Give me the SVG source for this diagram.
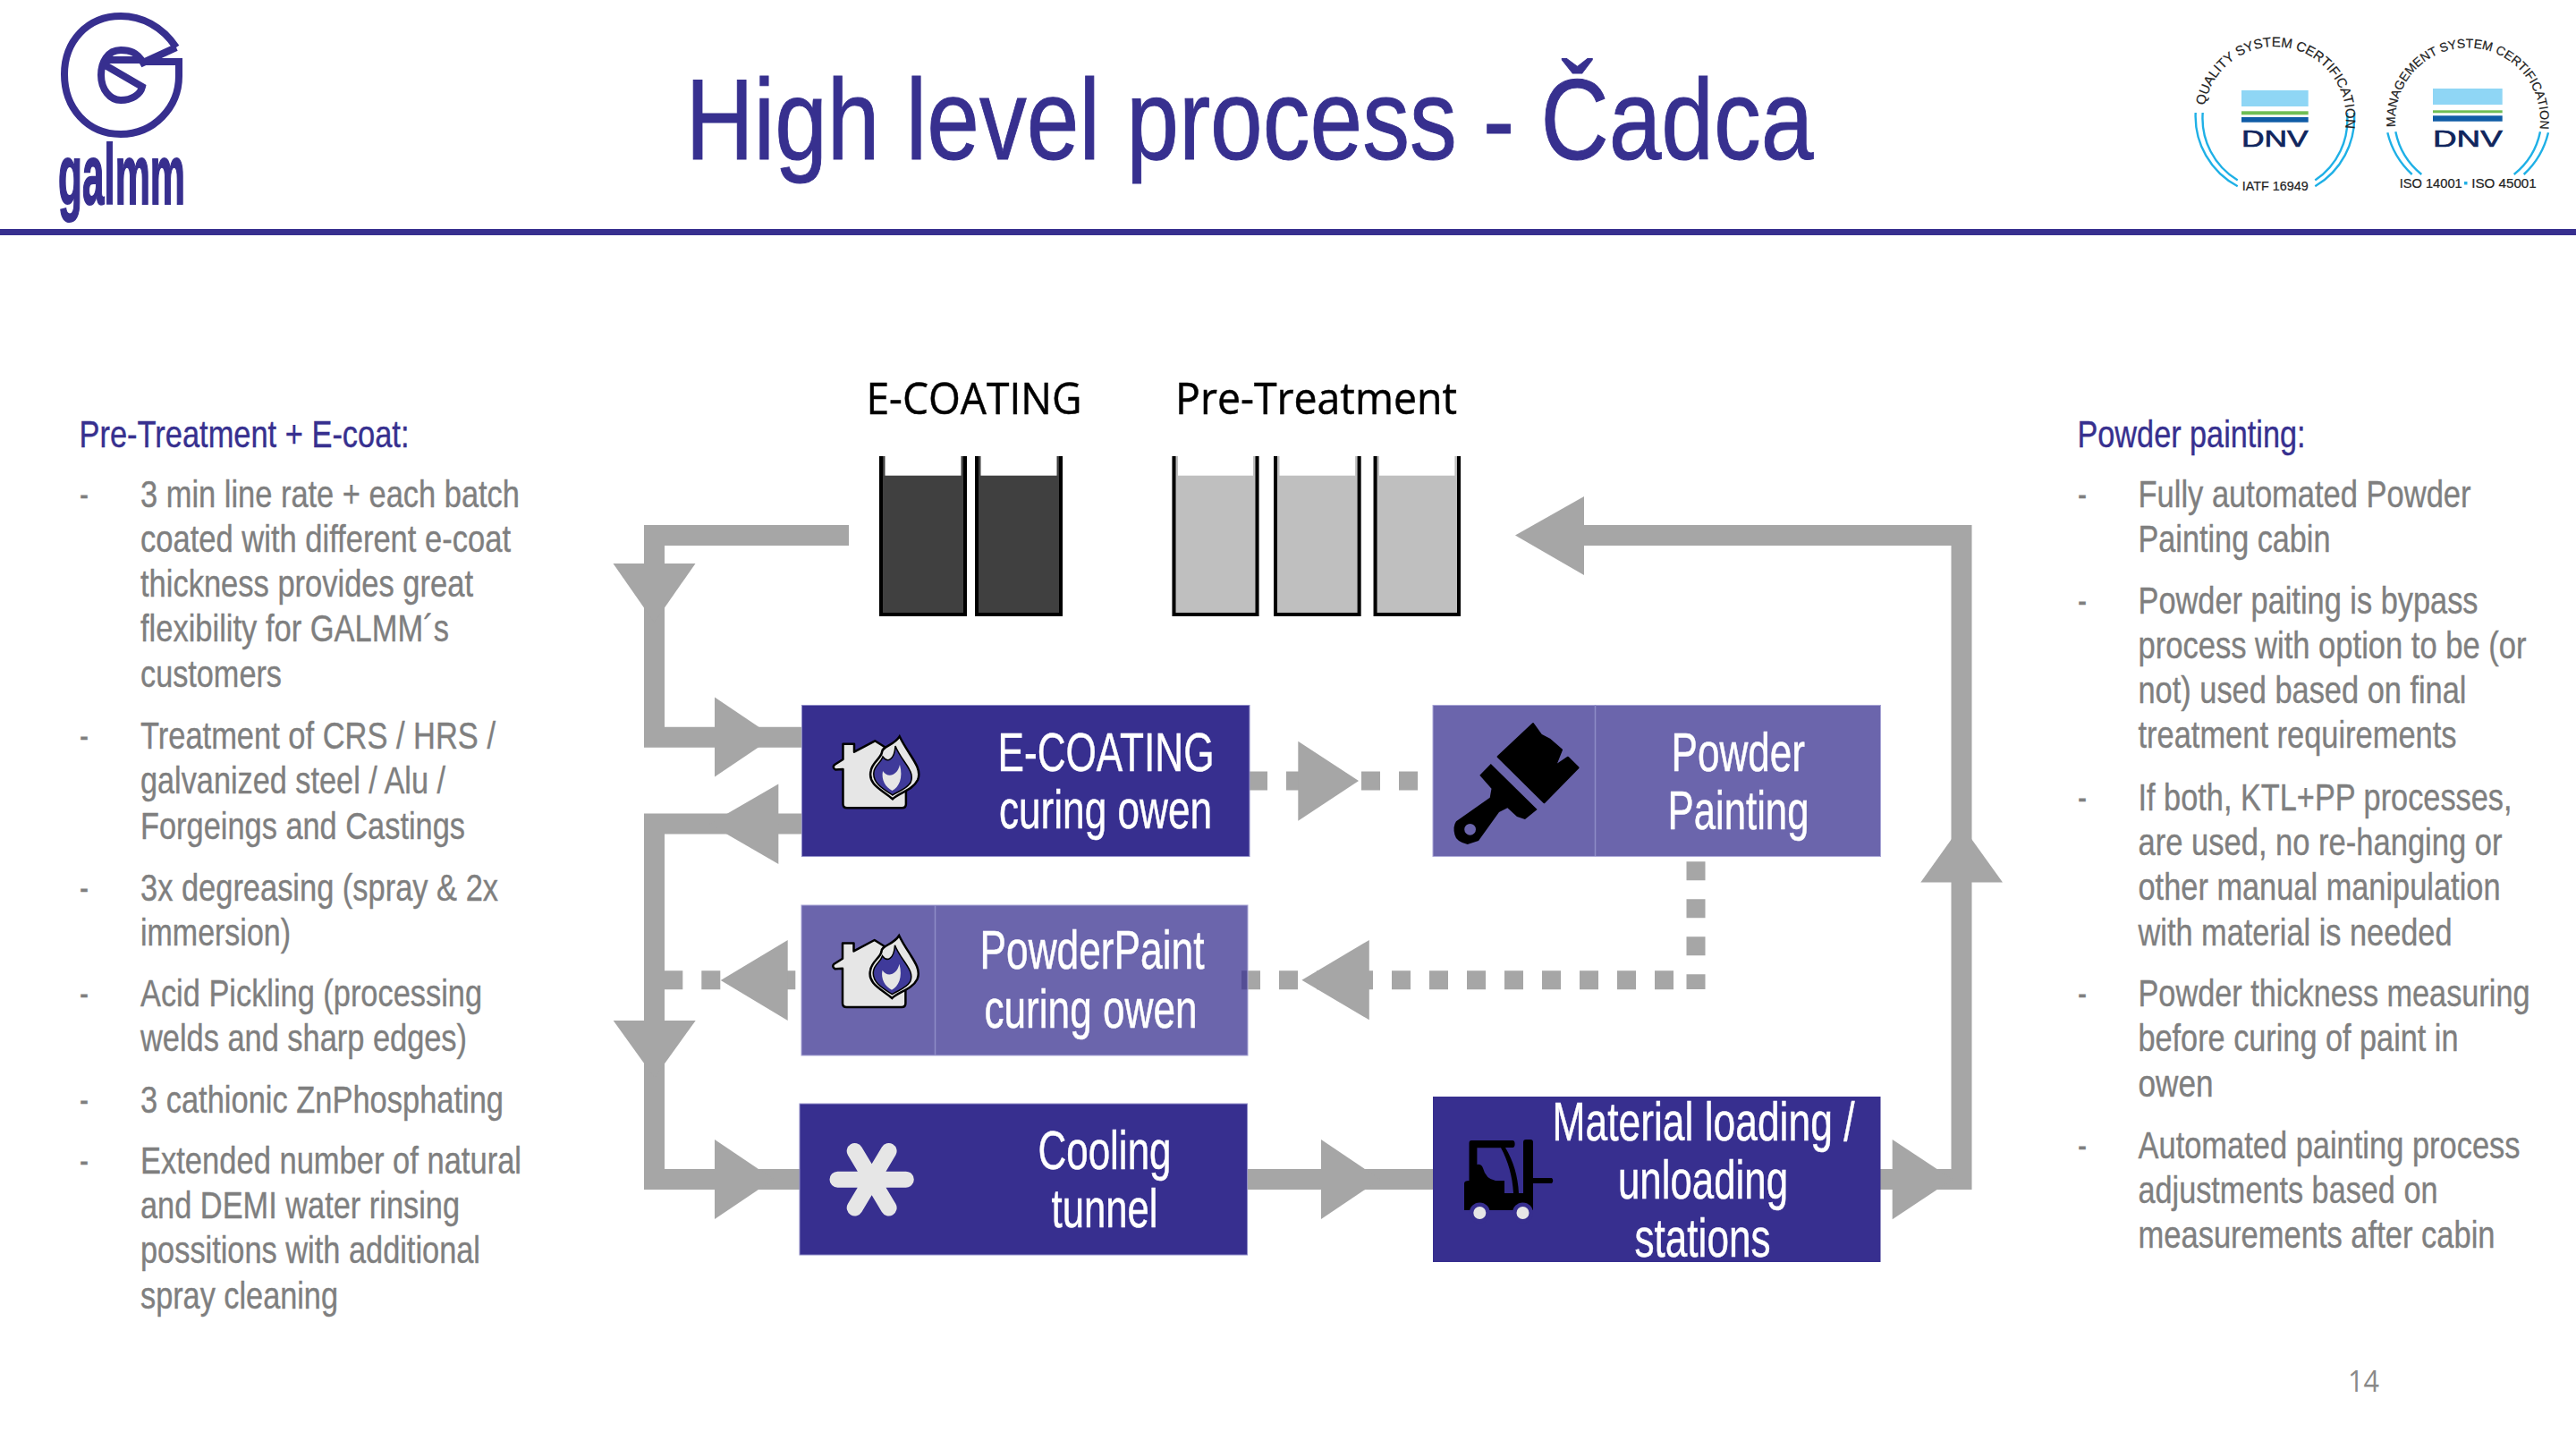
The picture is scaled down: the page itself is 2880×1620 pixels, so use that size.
<svg xmlns="http://www.w3.org/2000/svg" xmlns:xlink="http://www.w3.org/1999/xlink" width="2880" height="1620" viewBox="0 0 2880 1620">
<style>
text{font-family:"Liberation Sans",Arial,sans-serif}
.n{font-family:"Liberation Sans Narrow","Liberation Sans",Arial,sans-serif}
.b{font-family:"Liberation Sans Narrow","Liberation Sans",Arial,sans-serif;font-size:43px;fill:#7f7f7f;stroke:#7f7f7f;stroke-width:.4}
.h{font-family:"Liberation Sans Narrow","Liberation Sans",Arial,sans-serif;font-size:43px;fill:#37308f;stroke:#37308f;stroke-width:.4}
.w{font-family:"Liberation Sans Narrow","Liberation Sans",Arial,sans-serif;font-size:61px;fill:#fff;stroke:#fff;stroke-width:.5}
.c{fill:none;stroke:#a6a6a6;stroke-width:23}
.d{fill:none;stroke:#a6a6a6;stroke-width:21;stroke-dasharray:21 21}
.a{fill:#a6a6a6}
.dark{fill:#372f8f;stroke:#8f8cc7;stroke-width:1}
.light{fill:#372f8f;fill-opacity:.74;stroke:#a9a6d6;stroke-width:1}
.div{stroke:#8f8cc7;stroke-width:1.5}
.u{fill:none;stroke:#000;stroke-width:4;stroke-linejoin:miter}
.lg{fill:none;stroke:#372f8f;stroke-width:8}
.ring{fill:none;stroke:#1fb0e6;stroke-width:2.4}
.cert{font-size:14.5px;fill:#222;stroke:#222;stroke-width:.2}
.dnv{font-size:26px;fill:#10265e;stroke:#10265e;stroke-width:.7}
</style>
<defs>
<path id="arc1" d="M2465,118 A79.5,79.5 0 1 1 2612.1,171.5"/>
<path id="arc2" d="M2678.3,141.7 A81,81 0 1 1 2829,175"/>
<g id="ovenIcon">
<path d="M942.5,831.7 H955 V840.7 L978.2,828.3 L1000,842 L1012.9,885 V899 Q1012.9,903.3 1008.5,903.3 H947 Q942.5,903.3 942.5,899 V860 L934,860.5 Q930,858 933,855 L942.5,849 Z" fill="#e6e6e6" stroke="#000" stroke-width="2.5" stroke-linejoin="round"/>
<path d="M1005.7,823.3 C1016,845 1032,858 1026,872 C1020,884 1005,886 997.9,893.3 C986,883 970,877 973.6,862 C975,852 985,848 986,841 C986,834 999,834 1005.7,823.3 Z" fill="#e6e6e6" stroke="#000" stroke-width="2.5"/>
<path d="M1001,834 C1008,852 1024,862 1018,875 C1013,883 1003,885 997.9,889 C987,882 975,875 977,863 C978,855 985,853 987,846 C992,853 1000,850 1001,834 Z" fill="#3f3a9a" stroke="#000" stroke-width="1.5"/>
<path d="M987,862 C992,870 1003,868 1006,855 C1010,870 1005,880 997.5,884 C990,880 985,872 987,862 Z" fill="#e6e6e6"/>
</g>
</defs>

<g id="logo">
<path class="lg" d="M197,53 C181,29 158,18 135,18 C97,18 72,47 72,83 C72,120 97,150 135,150 C172,150 200,120 200,85 V69 H160 M197,53 L160,70 C153,58 145,56 135,56 C120,56 113,70 113,84 C113,100 123,112 135,112 C147,112 157,106 159,97 L116,72 M116,67 H158"/>
<text class="n" x="65" y="228" font-size="95" font-weight="bold" fill="#372f8f" stroke="#372f8f" stroke-width="2" textLength="142" lengthAdjust="spacingAndGlyphs">galmm</text>
</g>
<text id="title" class="n" x="766.5" y="178" font-size="128" fill="#37308f" stroke="#37308f" stroke-width="1" textLength="1261" lengthAdjust="spacingAndGlyphs">High level process - Čadca</text>
<rect id="rule" x="0" y="256" width="2880" height="7" fill="#372f8f"/>

<g id="cert-iatf">
<path class="ring" d="M2454.7,126 A88.7,88.7 0 0 0 2501.7,208.3 M2632,126 A88.7,88.7 0 0 1 2588.3,208.3 M2462.7,126 A81,81 0 0 0 2501.7,201.5 M2624,126 A81,81 0 0 1 2588.3,201.5"/>
<rect x="2506" y="101" width="74.7" height="18" fill="#8fd6f5"/>
<rect x="2506" y="124.3" width="74.7" height="4" fill="#6fbe55"/>
<rect x="2506" y="131" width="74.7" height="5.7" fill="#0f5ca6"/>
<text class="dnv" x="2506" y="164.3" textLength="74.7" lengthAdjust="spacingAndGlyphs">DNV</text>
<text class="cert" style="font-size:15px"><textPath href="#arc1" xlink:href="#arc1" startOffset="0">QUALITY SYSTEM CERTIFICATION</textPath></text>
<text class="cert" x="2506.7" y="213" textLength="74" lengthAdjust="spacingAndGlyphs">IATF 16949</text>
</g>
<g id="cert-iso">
<path class="ring" d="M2669.3,148.3 A92.7,92.7 0 0 0 2696.7,195 M2849,148.3 A92.7,92.7 0 0 1 2821.7,195 M2678.3,147.3 A82.3,82.3 0 0 0 2707.3,195 M2840,147.3 A82.3,82.3 0 0 1 2810.7,195"/>
<rect x="2720" y="99" width="77.7" height="18" fill="#8fd6f5"/>
<rect x="2720" y="123.3" width="77.7" height="3" fill="#6fbe55"/>
<rect x="2720" y="129.3" width="77.7" height="6.4" fill="#0f5ca6"/>
<text class="dnv" x="2720" y="164" textLength="77.7" lengthAdjust="spacingAndGlyphs">DNV</text>
<text class="cert" style="font-size:14px"><textPath href="#arc2" xlink:href="#arc2" startOffset="0">MANAGEMENT SYSTEM CERTIFICATION</textPath></text>
<text class="cert" x="2682.7" y="210" textLength="70" lengthAdjust="spacingAndGlyphs">ISO 14001</text>
<rect x="2755" y="203" width="3.5" height="3.5" fill="#1fb0e6"/>
<text class="cert" x="2763.3" y="210" textLength="72.4" lengthAdjust="spacingAndGlyphs">ISO 45001</text>
</g>

<g id="left-text">
<text class="h" x="88.5" y="500" textLength="369" lengthAdjust="spacingAndGlyphs">Pre-Treatment + E-coat:</text>
<text class="b" x="89" y="567" textLength="10" lengthAdjust="spacingAndGlyphs">-</text>
<text class="b" x="157" y="567" textLength="424" lengthAdjust="spacingAndGlyphs">3 min line rate + each batch</text>
<text class="b" x="157" y="617" textLength="414" lengthAdjust="spacingAndGlyphs">coated with different e-coat</text>
<text class="b" x="157" y="667" textLength="372" lengthAdjust="spacingAndGlyphs">thickness provides great</text>
<text class="b" x="157" y="717" textLength="345" lengthAdjust="spacingAndGlyphs">flexibility for GALMM´s</text>
<text class="b" x="157" y="768" textLength="158" lengthAdjust="spacingAndGlyphs">customers</text>
<text class="b" x="89" y="837" textLength="10" lengthAdjust="spacingAndGlyphs">-</text>
<text class="b" x="157" y="837" textLength="397" lengthAdjust="spacingAndGlyphs">Treatment of CRS / HRS /</text>
<text class="b" x="157" y="887" textLength="341" lengthAdjust="spacingAndGlyphs">galvanized steel / Alu /</text>
<text class="b" x="157" y="938" textLength="363" lengthAdjust="spacingAndGlyphs">Forgeings and Castings</text>
<text class="b" x="89" y="1007" textLength="10" lengthAdjust="spacingAndGlyphs">-</text>
<text class="b" x="157" y="1007" textLength="400" lengthAdjust="spacingAndGlyphs">3x degreasing (spray &amp; 2x</text>
<text class="b" x="157" y="1057" textLength="168" lengthAdjust="spacingAndGlyphs">immersion)</text>
<text class="b" x="89" y="1125" textLength="10" lengthAdjust="spacingAndGlyphs">-</text>
<text class="b" x="157" y="1125" textLength="382" lengthAdjust="spacingAndGlyphs">Acid Pickling (processing</text>
<text class="b" x="157" y="1175" textLength="365" lengthAdjust="spacingAndGlyphs">welds and sharp edges)</text>
<text class="b" x="89" y="1244" textLength="10" lengthAdjust="spacingAndGlyphs">-</text>
<text class="b" x="157" y="1244" textLength="406" lengthAdjust="spacingAndGlyphs">3 cathionic ZnPhosphating</text>
<text class="b" x="89" y="1312" textLength="10" lengthAdjust="spacingAndGlyphs">-</text>
<text class="b" x="157" y="1312" textLength="426" lengthAdjust="spacingAndGlyphs">Extended number of natural</text>
<text class="b" x="157" y="1362" textLength="357" lengthAdjust="spacingAndGlyphs">and DEMI water rinsing</text>
<text class="b" x="157" y="1412" textLength="380" lengthAdjust="spacingAndGlyphs">possitions with additional</text>
<text class="b" x="157" y="1463" textLength="221" lengthAdjust="spacingAndGlyphs">spray cleaning</text>
</g>

<g id="right-text">
<text class="h" x="2322.5" y="500" textLength="255" lengthAdjust="spacingAndGlyphs">Powder painting:</text>
<text class="b" x="2323" y="567" textLength="10" lengthAdjust="spacingAndGlyphs">-</text>
<text class="b" x="2390.5" y="567" textLength="372" lengthAdjust="spacingAndGlyphs">Fully automated Powder</text>
<text class="b" x="2390.5" y="617" textLength="215" lengthAdjust="spacingAndGlyphs">Painting cabin</text>
<text class="b" x="2323" y="686" textLength="10" lengthAdjust="spacingAndGlyphs">-</text>
<text class="b" x="2390.5" y="686" textLength="380" lengthAdjust="spacingAndGlyphs">Powder paiting is bypass</text>
<text class="b" x="2390.5" y="736" textLength="434" lengthAdjust="spacingAndGlyphs">process with option to be (or</text>
<text class="b" x="2390.5" y="786" textLength="367" lengthAdjust="spacingAndGlyphs">not) used based on final</text>
<text class="b" x="2390.5" y="836" textLength="356" lengthAdjust="spacingAndGlyphs">treatment requirements</text>
<text class="b" x="2323" y="906" textLength="10" lengthAdjust="spacingAndGlyphs">-</text>
<text class="b" x="2390.5" y="906" textLength="418" lengthAdjust="spacingAndGlyphs">If both, KTL+PP processes,</text>
<text class="b" x="2390.5" y="956" textLength="407" lengthAdjust="spacingAndGlyphs">are used, no re-hanging or</text>
<text class="b" x="2390.5" y="1006" textLength="405" lengthAdjust="spacingAndGlyphs">other manual manipulation</text>
<text class="b" x="2390.5" y="1057" textLength="351" lengthAdjust="spacingAndGlyphs">with material is needed</text>
<text class="b" x="2323" y="1125" textLength="10" lengthAdjust="spacingAndGlyphs">-</text>
<text class="b" x="2390.5" y="1125" textLength="438" lengthAdjust="spacingAndGlyphs">Powder thickness measuring</text>
<text class="b" x="2390.5" y="1175" textLength="358" lengthAdjust="spacingAndGlyphs">before curing of paint in</text>
<text class="b" x="2390.5" y="1226" textLength="84" lengthAdjust="spacingAndGlyphs">owen</text>
<text class="b" x="2323" y="1295" textLength="10" lengthAdjust="spacingAndGlyphs">-</text>
<text class="b" x="2390.5" y="1295" textLength="427" lengthAdjust="spacingAndGlyphs">Automated painting process</text>
<text class="b" x="2390.5" y="1345" textLength="335" lengthAdjust="spacingAndGlyphs">adjustments based on</text>
<text class="b" x="2390.5" y="1395" textLength="399" lengthAdjust="spacingAndGlyphs">measurements after cabin</text>
</g>

<g id="connectors">
<path class="c" d="M949,598.5 H731.5 V824.2 H896"/>
<path class="c" d="M896,921 H731.5 V1318.6 H894"/>
<path class="c" d="M1394,1318.6 H1602"/>
<path class="c" d="M2102,1318.6 H2193 V598.5 H1771"/>
<path class="d" d="M1396,873 H1586"/>
<path class="d" d="M1896,963.3 V1106"/>
<path class="d" d="M1871,1095.7 H1388"/>
<path class="d" d="M889.3,1095.7 H743"/>
<polygon class="a" points="685.5,630 777.5,630 731.5,696"/>
<polygon class="a" points="799,779.4 799,868.6 865,824"/>
<polygon class="a" points="870.3,876.6 870.3,966 793,921.3"/>
<polygon class="a" points="880.7,1051 880.7,1141 805.7,1096"/>
<polygon class="a" points="685.7,1141 777.7,1141 731.7,1205"/>
<polygon class="a" points="799,1274 799,1363 865,1318.6"/>
<polygon class="a" points="1477,1274 1477,1363 1543,1318.6"/>
<polygon class="a" points="1451.3,828.7 1451.3,917.7 1519,873"/>
<polygon class="a" points="1530.8,1051 1530.8,1140.3 1455.4,1095.7"/>
<polygon class="a" points="2115.7,1274 2115.7,1363.3 2183,1318.6"/>
<polygon class="a" points="2147.3,986.5 2239,986.5 2193,922.5"/>
<polygon class="a" points="1771,555 1771,643 1694,598.5"/>
</g>

<g id="ecoating-tanks">
<text x="968.5" y="463" font-size="50" fill="#000" stroke="#000" stroke-width=".5" style="font-family:'Open Sans',sans-serif" textLength="241" lengthAdjust="spacingAndGlyphs">E-COATING</text>
<rect x="983" y="510" width="98" height="179" fill="#404040"/><rect x="989.5" y="510" width="85" height="21.7" fill="#fff"/><path class="u" d="M985,510 V687 H1079 V510"/>
<rect x="1090" y="510" width="98" height="179" fill="#404040"/><rect x="1096.5" y="510" width="85" height="21.7" fill="#fff"/><path class="u" d="M1092,510 V687 H1186 V510"/>
</g>
<g id="pretreatment-tanks">
<text x="1314" y="463" font-size="50" fill="#000" stroke="#000" stroke-width=".5" style="font-family:'Open Sans',sans-serif" textLength="315" lengthAdjust="spacingAndGlyphs">Pre-Treatment</text>
<rect x="1310.5" y="510" width="97" height="179" fill="#bfbfbf"/><rect x="1317" y="510" width="84" height="21.7" fill="#fff"/><path class="u" d="M1312.5,510 V687 H1405.5 V510"/>
<rect x="1424" y="510" width="97.6" height="179" fill="#bfbfbf"/><rect x="1430.5" y="510" width="84.6" height="21.7" fill="#fff"/><path class="u" d="M1426,510 V687 H1519.6 V510"/>
<rect x="1535.6" y="510" width="97.4" height="179" fill="#bfbfbf"/><rect x="1542" y="510" width="84.4" height="21.7" fill="#fff"/><path class="u" d="M1537.6,510 V687 H1631 V510"/>
</g>

<g id="node-ecoating">
<rect class="dark" x="896.5" y="788.5" width="500.5" height="169"/>
<use href="#ovenIcon" xlink:href="#ovenIcon"/>
<text class="w" x="1115.5" y="862" textLength="242" lengthAdjust="spacingAndGlyphs">E-COATING</text>
<text class="w" x="1117" y="926" textLength="238" lengthAdjust="spacingAndGlyphs">curing owen</text>
</g>
<g id="node-powderpaint">
<rect class="light" x="896" y="1012" width="499" height="168"/>
<line class="div" x1="1045.5" y1="1012" x2="1045.5" y2="1180"/>
<use href="#ovenIcon" xlink:href="#ovenIcon" transform="translate(-0.5,222.7)"/>
<text class="w" x="1095.5" y="1083" textLength="251" lengthAdjust="spacingAndGlyphs">PowderPaint</text>
<text class="w" x="1100.5" y="1149" textLength="238" lengthAdjust="spacingAndGlyphs">curing owen</text>
</g>
<g id="node-powder-painting">
<rect class="light" x="1602" y="788.5" width="500.5" height="169"/>
<line class="div" x1="1783.5" y1="788" x2="1783.5" y2="957"/>
<path d="M1714,809 L1723,821.7 L1733,827 L1746,838.3 L1739,856 L1753,846.7 L1764.6,858.3 L1726.4,897.3 L1674.6,846 Z" fill="#000" stroke="#000" stroke-width="2" stroke-linejoin="round"/>
<path fill-rule="evenodd" d="M1666.8,854 L1718.6,905 L1705,916 L1696,913 L1685.4,903.3 L1676,908 L1653,940 L1640.7,944 Q1628,941 1626.4,933.3 Q1624,924 1628,918.3 L1665.7,891.7 L1667.5,881.7 L1654.3,866.7 Z M1650,927.3 A6.4,6.4 0 1 0 1637.2,927.3 A6.4,6.4 0 1 0 1650,927.3 Z" fill="#000"/>
<text class="w" x="1868.5" y="862" textLength="149.5" lengthAdjust="spacingAndGlyphs">Powder</text>
<text class="w" x="1864.5" y="927" textLength="158" lengthAdjust="spacingAndGlyphs">Painting</text>
</g>
<g id="node-cooling">
<rect class="dark" x="894" y="1234" width="500.5" height="169"/>
<path d="M936.5,1318.7 H1012.8 M955.7,1287 L993.6,1350.4 M993.6,1287 L955.7,1350.4" fill="none" stroke="#e6e6e6" stroke-width="18" stroke-linecap="round"/>
<text class="w" x="1160.5" y="1307" textLength="149" lengthAdjust="spacingAndGlyphs">Cooling</text>
<text class="w" x="1175.5" y="1372" textLength="119" lengthAdjust="spacingAndGlyphs">tunnel</text>
</g>
<g id="node-loading">
<rect x="1602" y="1226" width="500.5" height="185" fill="#372f8f"/>
<path d="M1645,1275 H1691 Q1693.6,1275 1693.6,1279 Q1693.6,1283 1691,1283 H1683 C1692,1298 1697,1315 1698,1334 H1703 V1277 Q1703,1274 1706,1274 H1711 Q1714,1274 1714,1277 V1317 H1735 Q1737.5,1320 1735,1323 H1714 V1353 H1637 V1323 Q1637,1320 1642.5,1320 V1278 Q1642.5,1275 1645,1275 Z M1651.4,1283.3 V1302 Q1656,1301 1658,1306 Q1661,1318 1672,1320 H1682 V1334 H1692 C1691,1315 1686,1298 1678,1283.3 Z" fill="#000" fill-rule="evenodd"/>
<circle cx="1654.3" cy="1356" r="11.5" fill="#372f8f"/><circle cx="1702.5" cy="1356" r="11.5" fill="#372f8f"/>
<circle cx="1654.3" cy="1356" r="7" fill="#e6e6e6"/><circle cx="1702.5" cy="1356" r="7" fill="#e6e6e6"/>
<text class="w" x="1735.5" y="1275" textLength="338" lengthAdjust="spacingAndGlyphs">Material loading /</text>
<text class="w" x="1809" y="1340" textLength="190" lengthAdjust="spacingAndGlyphs">unloading</text>
<text class="w" x="1827.5" y="1405" textLength="152" lengthAdjust="spacingAndGlyphs">stations</text>
</g>
<text id="page" x="2625" y="1556" font-size="32" fill="#898989" style="font-family:'Open Sans',sans-serif" textLength="35" lengthAdjust="spacingAndGlyphs">14</text>
</svg>
